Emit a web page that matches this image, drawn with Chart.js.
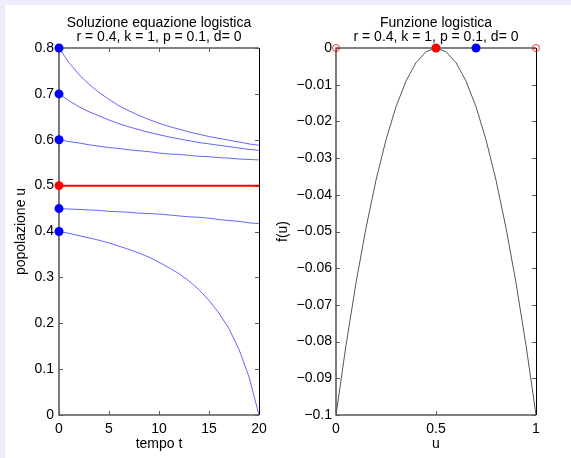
<!DOCTYPE html>
<html>
<head>
<meta charset="utf-8">
<script src="https://cdn.jsdelivr.net/npm/chart.js@4/dist/chart.umd.min.js"></script>
<style>
  body { margin: 0; background: #eeeefa; width: 571px; height: 458px; overflow: hidden; }
  #foglio { position: absolute; left: 5px; top: 5px; width: 566px; height: 453px; background: #fff; }
  canvas { position: absolute; top: 0; }
  #graficoSoluzione { left: 0; }
  #graficoFunzione { left: 270px; }
</style>
</head>
<body>
<div id="foglio"></div>
<canvas id="graficoSoluzione" width="290" height="458"></canvas>
<canvas id="graficoFunzione" width="301" height="458"></canvas>
<script>
// tempo t (asse x del primo grafico)
const tempo = [0, 1, 2, 3, 4, 5, 6, 7, 8, 9, 10, 11, 12, 13, 14, 15, 16, 17, 18, 19, 20];

// soluzioni u(t), una per ogni condizione iniziale
const u_080 = [0.800, 0.768, 0.742, 0.721, 0.703, 0.688, 0.674, 0.663, 0.653, 0.644, 0.636,
               0.629, 0.623, 0.617, 0.612, 0.607, 0.603, 0.599, 0.595, 0.591, 0.588];
const u_070 = [0.700, 0.685, 0.672, 0.661, 0.652, 0.643, 0.635, 0.628, 0.622, 0.616, 0.611,
               0.606, 0.602, 0.598, 0.594, 0.591, 0.588, 0.585, 0.582, 0.579, 0.577];
const u_060 = [0.600, 0.596, 0.593, 0.589, 0.586, 0.583, 0.581, 0.578, 0.576, 0.574, 0.571,
               0.569, 0.568, 0.566, 0.564, 0.563, 0.561, 0.560, 0.558, 0.557, 0.556];
const u_045 = [0.450, 0.449, 0.448, 0.447, 0.446, 0.444, 0.443, 0.442, 0.440, 0.439, 0.438,
               0.436, 0.434, 0.432, 0.431, 0.429, 0.426, 0.424, 0.422, 0.419, 0.417];
const u_040 = [0.400, 0.396, 0.391, 0.386, 0.381, 0.375, 0.368, 0.361, 0.353, 0.344, 0.333,
               0.321, 0.308, 0.292, 0.273, 0.250, 0.222, 0.188, 0.143, 0.083, 0.000];

// condizioni iniziali (punti blu) ed equilibrio (rosso)
const condizioniIniziali = [0.8, 0.7, 0.6, 0.45, 0.4];
const equilibrio = 0.5;

// funzione logistica f(u)
const uValori = [0, 0.05, 0.1, 0.15, 0.2, 0.25, 0.3, 0.35, 0.4, 0.45, 0.5,
                 0.55, 0.6, 0.65, 0.7, 0.75, 0.8, 0.85, 0.9, 0.95, 1];
const fValori = [-0.1, -0.081, -0.064, -0.049, -0.036, -0.025, -0.016, -0.009, -0.004, -0.001, 0,
                 -0.001, -0.004, -0.009, -0.016, -0.025, -0.036, -0.049, -0.064, -0.081, -0.1];
const zeriAperti = [0, 1];      // cerchi rossi vuoti
const puntoEquilibrio = 0.5;    // punto rosso pieno
const puntoIniziale = 0.7;      // punto blu pieno

const titoloSinistra = ['Soluzione equazione logistica', 'r = 0.4, k = 1, p = 0.1, d= 0'];
const titoloDestra = ['Funzione logistica', 'r = 0.4, k = 1, p = 0.1, d= 0'];

const FONT = 'Helvetica, Arial, "Liberation Sans", sans-serif';
const meno = s => s.replace('-', '\u2212');

// riquadro e tacche verso l'interno, come in MATLAB
const riquadro = {
    id: 'riquadro',
    beforeDatasetsDraw(chart) {
        const { ctx, chartArea: a, scales } = chart;
        ctx.save();
        ctx.strokeStyle = '#5a5a5a';
        ctx.lineWidth = 1;
        scales.x.ticks.forEach(t => {
            const px = Math.round(scales.x.getPixelForValue(t.value)) + 0.5;
            ctx.beginPath();
            ctx.moveTo(px, a.bottom); ctx.lineTo(px, a.bottom - 4);
            ctx.moveTo(px, a.top); ctx.lineTo(px, a.top + 4);
            ctx.stroke();
        });
        scales.y.ticks.forEach(t => {
            const py = Math.round(scales.y.getPixelForValue(t.value)) + 0.5;
            ctx.beginPath();
            ctx.moveTo(a.left, py); ctx.lineTo(a.left + 4, py);
            ctx.moveTo(a.right, py); ctx.lineTo(a.right - 4, py);
            ctx.stroke();
        });
        ctx.lineWidth = 1.6;
        ctx.beginPath();
        ctx.moveTo(a.right, a.top); ctx.lineTo(a.left, a.top);
        ctx.lineTo(a.left, a.bottom); ctx.lineTo(a.right, a.bottom);
        ctx.stroke();
        ctx.strokeStyle = '#000';
        ctx.lineWidth = 1;
        ctx.beginPath();
        ctx.moveTo(a.right + 0.5, a.top); ctx.lineTo(a.right + 0.5, a.bottom);
        ctx.stroke();
        ctx.restore();
    },
    afterDraw(chart) {
        const { ctx, chartArea: a } = chart;
        const righe = chart.options.plugins.riquadro.titolo;
        ctx.save();
        ctx.fillStyle = '#000';
        ctx.font = '14px ' + FONT;
        ctx.textAlign = 'center';
        ctx.textBaseline = 'middle';
        const cx = (a.left + a.right) / 2;
        ctx.fillText(righe[0], cx, a.top - 25);
        ctx.fillText(righe[1], cx, a.top - 11);
        ctx.restore();
    }
};

function assi(xOpt, yOpt, yWidth) {
    const comune = {
        type: 'linear',
        grid: { display: false, drawTicks: false },
        border: { display: false },
    };
    return {
        x: Object.assign({}, comune, xOpt, {
            afterFit: s => { s.height = 43; },
        }),
        y: Object.assign({}, comune, yOpt, {
            afterFit: s => { s.width = yWidth; },
        }),
    };
}

const tickFont = { family: FONT, size: 14 };
const titleFont = { family: FONT, size: 14 };

const serie = [u_080, u_070, u_060, u_045, u_040];
const curveBlu = serie.map(s => ({
    data: tempo.map((t, i) => ({ x: t, y: s[i] })),
    borderColor: 'rgba(0, 0, 255, 0.6)',
    borderWidth: 1,
    pointRadius: 0,
    showLine: true,
    order: 3,
}));

new Chart(document.getElementById('graficoSoluzione'), {
    type: 'scatter',
    data: {
        datasets: [
            ...curveBlu,
            {
                data: [{ x: tempo[0], y: equilibrio }, { x: tempo[tempo.length - 1], y: equilibrio }],
                borderColor: '#ff0000',
                borderWidth: 2,
                pointRadius: 0,
                showLine: true,
                order: 2,
            },
            {
                data: [...condizioniIniziali.map(v => ({ x: 0, y: v })), { x: 0, y: equilibrio }],
                backgroundColor: [...condizioniIniziali.map(() => '#0000ff'), '#ff0000'],
                borderColor: [...condizioniIniziali.map(() => '#0000ff'), '#ff0000'],
                pointRadius: 4.5,
                borderWidth: 0,
                clip: false,
                order: 1,
            },
        ],
    },
    options: {
        responsive: false,
        animation: false,
        devicePixelRatio: 1,
        layout: { padding: { left: 0, right: 31, top: 48, bottom: 0 } },
        plugins: { legend: { display: false }, tooltip: { enabled: false }, riquadro: { titolo: titoloSinistra } },
        scales: assi(
            {
                min: 0, max: 20,
                ticks: { stepSize: 5, color: '#000', font: tickFont, padding: 6, maxRotation: 0 },
                title: { display: true, text: 'tempo t', color: '#000', font: titleFont, padding: { top: 0, bottom: 5 } },
            },
            {
                min: 0, max: 0.8,
                ticks: { stepSize: 0.1, color: '#000', font: tickFont, padding: 5,
                         callback: v => String(Math.round(v * 10) / 10) },
                title: { display: true, text: 'popolazione u', color: '#000', font: titleFont, padding: { top: 13, bottom: 0 } },
            },
            59
        ),
    },
    plugins: [riquadro],
});

new Chart(document.getElementById('graficoFunzione'), {
    type: 'scatter',
    data: {
        datasets: [
            {
                data: uValori.map((u, i) => ({ x: u, y: fValori[i] })),
                borderColor: '#555555',
                borderWidth: 1,
                pointRadius: 0,
                showLine: true,
                order: 3,
            },
            {
                data: zeriAperti.map(u => ({ x: u, y: 0 })),
                backgroundColor: 'rgba(0,0,0,0)',
                borderColor: '#ff0000',
                borderWidth: 0.8,
                pointRadius: 3.5,
                clip: false,
                order: 2,
            },
            {
                data: [{ x: puntoEquilibrio, y: 0 }, { x: puntoIniziale, y: 0 }],
                backgroundColor: ['#ff0000', '#0000ff'],
                borderWidth: 0,
                pointRadius: 4.5,
                clip: false,
                order: 1,
            },
        ],
    },
    options: {
        responsive: false,
        animation: false,
        devicePixelRatio: 1,
        layout: { padding: { left: 0, right: 35, top: 48, bottom: 0 } },
        plugins: { legend: { display: false }, tooltip: { enabled: false }, riquadro: { titolo: titoloDestra } },
        scales: assi(
            {
                min: 0, max: 1,
                ticks: { stepSize: 0.5, color: '#000', font: tickFont, padding: 6, maxRotation: 0,
                         callback: v => String(Math.round(v * 10) / 10) },
                title: { display: true, text: 'u', color: '#000', font: titleFont, padding: { top: 0, bottom: 5 } },
            },
            {
                min: -0.1, max: 0,
                ticks: { stepSize: 0.01, color: '#000', font: tickFont, padding: 4,
                         callback: v => meno(String(Math.round(v * 100) / 100)) },
                title: { display: true, text: 'f(u)', color: '#000', font: titleFont, padding: { top: 5, bottom: 0 } },
            },
            66
        ),
    },
    plugins: [riquadro],
});
</script>
</body>
</html>
